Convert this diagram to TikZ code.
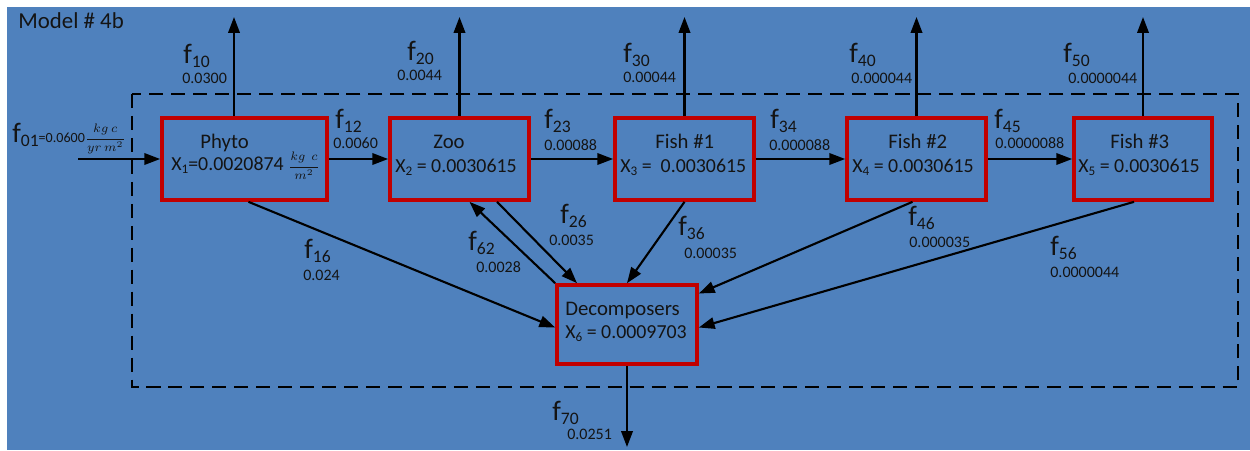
\documentclass[tikz,border=0pt]{standalone}
\usepackage{fontspec}
\setmainfont{Carlito}
\usetikzlibrary{arrows.meta,calc}
\definecolor{bg}{HTML}{4F81BD}
\definecolor{boxred}{HTML}{C00000}
\definecolor{ink}{HTML}{141414}
% flow symbol f with a lowered index
\newcommand\flw[1]{{\fontsize{16}{16}\selectfont f}\raisebox{-2.6pt}{\fontsize{10}{10}\selectfont #1}}
% lowered index inside the compartments
\newcommand\bsub[1]{\raisebox{-2pt}{\fontsize{7.5}{8}\selectfont #1}}
\tikzset{
  compartment/.style={draw=boxred, line width=2.1pt, inner sep=0pt, minimum height=1.64cm},
  flowarrow/.style={draw=black, line width=1.2pt, -{Triangle[length=9pt,width=6.5pt]}},
  flabel/.style={anchor=base west, inner sep=0pt, text=ink},
  vlabel/.style={anchor=base west, inner sep=0pt, text=ink, font=\fontsize{9.1}{10}\selectfont},
  btext/.style={anchor=base west, inner sep=0pt, text=ink, font=\fontsize{11.8}{13}\selectfont},
  xtext/.style={anchor=base west, inner sep=0pt, text=ink, font=\fontsize{11.3}{13}\selectfont},
  boundary/.style={draw=black, line width=1.4pt, dash pattern=on 8pt off 4.5pt},
}
\begin{document}
\begin{tikzpicture}[x=0.02cm,y=-0.02cm]
\useasboundingbox (0,0) rectangle (1250,450);
\fill[white] (0,0) rectangle (1250,450);
\fill[bg] (7,7) rectangle (1250,450);

% system boundary
\draw[boundary] (132,94) rectangle (1238,387);

\node[btext, font=\fontsize{13}{14}\selectfont] (title) at (18,28) {Model \# 4b};

% compartments
\node[compartment, minimum width=3.3cm]  (phyto)  at (244.5,159) {};
\node[compartment, minimum width=2.78cm] (zoo)    at (459.5,159) {};
\node[compartment, minimum width=2.78cm] (fish1)  at (684.5,159) {};
\node[compartment, minimum width=2.78cm] (fish2)  at (916.5,159) {};
\node[compartment, minimum width=2.76cm] (fish3)  at (1143,159) {};
\node[compartment, minimum width=2.8cm, minimum height=1.58cm] (decomp) at (627,324.5) {};

% compartment texts
\node[btext] (tphyto) at (200,148) {Phyto};
\node[xtext] (xphyto) at (171,170) {X\bsub{1}=0.0020874\ {\fontsize{7.5}{8}\selectfont$\displaystyle\frac{kg\ \ c}{m^2}$}};
\node[btext] (tzoo) at (433,148) {Zoo};
\node[xtext] (xzoo) at (395,172) {X\bsub{2} = 0.0030615};
\node[btext] (tfish1) at (655,148) {Fish \#1};
\node[xtext] (xfish1) at (620,172) {X\bsub{3} =\ \ 0.0030615};
\node[btext] (tfish2) at (888,148) {Fish \#2};
\node[xtext] (xfish2) at (852,172) {X\bsub{4} = 0.0030615};
\node[btext] (tfish3) at (1110,148) {Fish \#3};
\node[xtext] (xfish3) at (1078,172) {X\bsub{5} = 0.0030615};
\node[btext] (tdecomp) at (565,315) {Decomposers};
\node[xtext] (xdecomp) at (565,338) {X\bsub{6} = 0.0009703};

% outside ends of the flows
\coordinate (src)  at (78,159);
\coordinate (out1) at (234,17);
\coordinate (out2) at (459.5,17);
\coordinate (out3) at (684.5,17);
\coordinate (out4) at (916.5,17);
\coordinate (out5) at (1143,17);
\coordinate (sink) at (627,447);

% inflow and losses
\draw[flowarrow] (src) -- (phyto.west);
\draw[flowarrow] (out1 |- phyto.north) -- (out1);
\draw[flowarrow] (zoo.north) -- (out2);
\draw[flowarrow] (fish1.north) -- (out3);
\draw[flowarrow] (fish2.north) -- (out4);
\draw[flowarrow] (fish3.north) -- (out5);
\draw[flowarrow] (decomp.south) -- (sink);

% food chain
\draw[flowarrow] (phyto.east) -- (zoo.west);
\draw[flowarrow] (zoo.east) -- (fish1.west);
\draw[flowarrow] (fish1.east) -- (fish2.west);
\draw[flowarrow] (fish2.east) -- (fish3.west);

% flows to and from the decomposers
\draw[flowarrow] ($(phyto.south)+(4,0)$) -- ($(decomp.west)+(0,3)$);
\draw[flowarrow] ($(zoo.south)+(37.5,0)$) -- ($(decomp.north)+(-50,0)$);
\draw[flowarrow] (decomp.north west) -- ($(zoo.south)+(10,0)$);
\draw[flowarrow] (fish1.south) -- (decomp.north);
\draw[flowarrow] ($(fish2.south)+(-4,0)$) -- ($(decomp.east)+(0,-31)$);
\draw[flowarrow] ($(fish3.south)+(-9,0)$) -- ($(decomp.east)+(0,3)$);

% flow labels
\node[flabel] (l01) at (12,142) {\flw{01}{\fontsize{8}{8}\selectfont =0.0600}{\fontsize{7}{7}\selectfont$\displaystyle\frac{kg\ c}{yr\ m^2}$}};
\node[flabel] (l10) at (183,63) {\flw{10}};
\node[vlabel] (v10) at (182,83) {0.0300};
\node[flabel] (l20) at (407,60) {\flw{20}};
\node[vlabel] (v20) at (397,80) {0.0044};
\node[flabel] (l30) at (623,62) {\flw{30}};
\node[vlabel] (v30) at (623,82) {0.00044};
\node[flabel] (l40) at (849,62) {\flw{40}};
\node[vlabel] (v40) at (851,83) {0.000044};
\node[flabel] (l50) at (1063,62) {\flw{50}};
\node[vlabel] (v50) at (1068,83) {0.0000044};
\node[flabel] (l12) at (335,128) {\flw{12}};
\node[vlabel] (v12) at (333,148) {0.0060};
\node[flabel] (l23) at (544,128) {\flw{23}};
\node[vlabel] (v23) at (544,150) {0.00088};
\node[flabel] (l34) at (770,128) {\flw{34}};
\node[vlabel] (v34) at (769,150) {0.000088};
\node[flabel] (l45) at (994,128) {\flw{45}};
\node[vlabel] (v45) at (995,148) {0.0000088};
\node[flabel] (l16) at (304,258) {\flw{16}};
\node[vlabel] (v16) at (303,280) {0.024};
\node[flabel] (l62) at (468,250) {\flw{62}};
\node[vlabel] (v62) at (476,272) {0.0028};
\node[flabel] (l26) at (560,223) {\flw{26}};
\node[vlabel] (v26) at (549,245) {0.0035};
\node[flabel] (l36) at (678,235) {\flw{36}};
\node[vlabel] (v36) at (684,258) {0.00035};
\node[flabel] (l46) at (908,225) {\flw{46}};
\node[vlabel] (v46) at (909,247) {0.000035};
\node[flabel] (l56) at (1050,255) {\flw{56}};
\node[vlabel] (v56) at (1050,277) {0.0000044};
\node[flabel] (l70) at (552,420) {\flw{70}};
\node[vlabel] (v70) at (567,439) {0.0251};
\end{tikzpicture}
\end{document}
